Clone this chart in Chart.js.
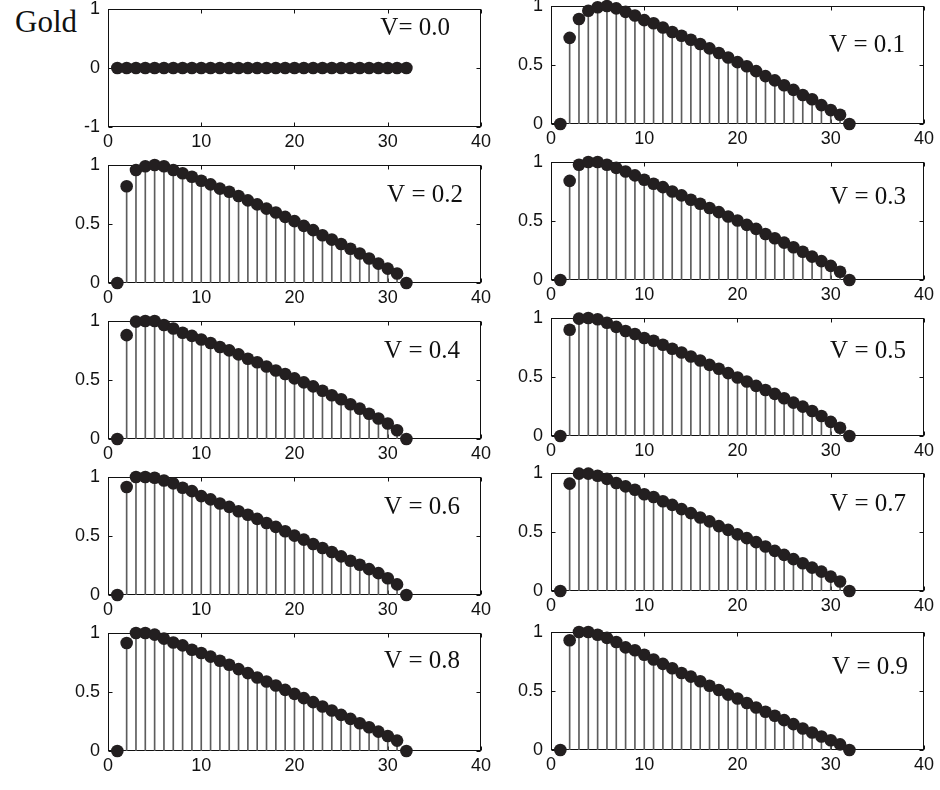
<!DOCTYPE html>
<html>
<head>
<meta charset="utf-8">
<script src="https://cdn.jsdelivr.net/npm/chart.js@4.4.0/dist/chart.umd.min.js"></script>
<style>
body { margin: 0; background: #fff; width: 940px; height: 790px; position: relative; overflow: hidden; }
.panel { position: absolute; }
#gold { position: absolute; left: 15px; top: 7px; font: 31px 'Liberation Serif', serif; line-height: 30px; color: #111; }
</style>
</head>
<body>
<div id="gold">Gold</div>
<script>
const xValues = [1, 2, 3, 4, 5, 6, 7, 8, 9, 10, 11, 12, 13, 14, 15, 16, 17, 18, 19, 20, 21, 22, 23, 24, 25, 26, 27, 28, 29, 30, 31, 32];
const xTicks = [0, 10, 20, 30, 40];
const panelLabels = ['V= 0.0', 'V = 0.1', 'V = 0.2', 'V = 0.3', 'V = 0.4', 'V = 0.5', 'V = 0.6', 'V = 0.7', 'V = 0.8', 'V = 0.9'];

const v00 = [0, 0, 0, 0, 0, 0, 0, 0, 0, 0, 0, 0, 0, 0, 0, 0, 0, 0, 0, 0, 0, 0, 0, 0, 0, 0, 0, 0, 0, 0, 0, 0];
const v01 = [0, 0.73, 0.89, 0.96, 0.99, 1.0, 0.98, 0.95, 0.92, 0.88, 0.854, 0.818, 0.78, 0.748, 0.714, 0.678, 0.641, 0.602, 0.563, 0.524, 0.49, 0.448, 0.406, 0.37, 0.328, 0.289, 0.246, 0.21, 0.16, 0.118, 0.078, 0];
const v02 = [0, 0.82, 0.957, 0.99, 1.0, 0.99, 0.957, 0.93, 0.90, 0.867, 0.836, 0.80, 0.773, 0.737, 0.70, 0.666, 0.63, 0.598, 0.56, 0.524, 0.484, 0.448, 0.405, 0.368, 0.33, 0.29, 0.25, 0.207, 0.164, 0.122, 0.08, 0];
const v03 = [0, 0.84, 0.977, 1.0, 1.0, 0.977, 0.95, 0.92, 0.887, 0.85, 0.816, 0.787, 0.75, 0.717, 0.68, 0.646, 0.61, 0.575, 0.538, 0.504, 0.467, 0.433, 0.39, 0.354, 0.317, 0.278, 0.24, 0.198, 0.16, 0.12, 0.07, 0];
const v04 = [0, 0.88, 0.995, 1.0, 1.0, 0.966, 0.937, 0.90, 0.874, 0.843, 0.814, 0.78, 0.751, 0.717, 0.68, 0.651, 0.614, 0.58, 0.551, 0.514, 0.48, 0.446, 0.409, 0.371, 0.337, 0.294, 0.257, 0.214, 0.174, 0.131, 0.074, 0];
const v05 = [0, 0.90, 0.995, 1.0, 0.99, 0.96, 0.925, 0.89, 0.864, 0.83, 0.807, 0.773, 0.74, 0.708, 0.674, 0.64, 0.603, 0.57, 0.533, 0.496, 0.462, 0.425, 0.39, 0.357, 0.32, 0.283, 0.249, 0.212, 0.17, 0.12, 0.07, 0];
const v06 = [0, 0.915, 1.0, 1.0, 0.994, 0.97, 0.946, 0.909, 0.88, 0.838, 0.81, 0.776, 0.747, 0.71, 0.68, 0.645, 0.61, 0.577, 0.54, 0.503, 0.469, 0.432, 0.398, 0.364, 0.327, 0.29, 0.256, 0.219, 0.185, 0.142, 0.09, 0];
const v07 = [0, 0.91, 0.995, 0.995, 0.977, 0.95, 0.915, 0.887, 0.858, 0.82, 0.796, 0.76, 0.73, 0.694, 0.66, 0.623, 0.59, 0.55, 0.518, 0.48, 0.448, 0.414, 0.377, 0.34, 0.306, 0.27, 0.235, 0.198, 0.164, 0.122, 0.08, 0];
const v08 = [0, 0.915, 1.0, 1.0, 0.986, 0.952, 0.92, 0.895, 0.858, 0.83, 0.80, 0.765, 0.731, 0.694, 0.66, 0.623, 0.589, 0.555, 0.518, 0.484, 0.448, 0.414, 0.377, 0.343, 0.306, 0.272, 0.235, 0.201, 0.164, 0.127, 0.088, 0];
const v09 = [0, 0.93, 1.0, 1.0, 0.977, 0.95, 0.915, 0.87, 0.845, 0.807, 0.767, 0.73, 0.693, 0.653, 0.622, 0.582, 0.545, 0.508, 0.469, 0.437, 0.398, 0.36, 0.324, 0.29, 0.253, 0.219, 0.182, 0.148, 0.114, 0.082, 0.048, 0];
const seriesList = [v00, v01, v02, v03, v04, v05, v06, v07, v08, v09];

// layout of the 5x2 grid (plot-area pixels)
const colLefts = [108, 551];
const rowTops = [[9, 165, 321, 477, 633], [6, 162, 318, 473, 632]];
const plotW = 373, plotH = 118;
const yAxisW = 46, xAxisH = 28, padTop = 24, padRight = 14;
const labelOffsets = [[31, 19], [19, 39], [18, 30], [18, 35], [21, 30], [18, 33], [21, 30], [18, 31], [21, 28], [16, 35]];

const tickFont = { family: "'Liberation Sans', Arial, sans-serif", size: 18 };

const boxPlugin = {
    id: 'boxPlugin',
    beforeDatasetsDraw(chart) {
        const { ctx, chartArea: a, scales } = chart;
        const l = Math.round(a.left) + 0.5, r = Math.round(a.right) - 0.5;
        const t = Math.round(a.top) + 0.5, b = Math.round(a.bottom) - 0.5;
        ctx.save();
        ctx.strokeStyle = '#111';
        ctx.lineWidth = 1;
        ctx.strokeRect(l, t, r - l, b - t);
        ctx.beginPath();
        scales.x.ticks.forEach(tk => {
            const px = Math.round(scales.x.getPixelForValue(tk.value)) + 0.5;
            ctx.moveTo(px, b); ctx.lineTo(px, b - 4);
            ctx.moveTo(px, t); ctx.lineTo(px, t + 4);
        });
        scales.y.ticks.forEach(tk => {
            const py = Math.round(scales.y.getPixelForValue(tk.value)) + 0.5;
            ctx.moveTo(l, py); ctx.lineTo(l + 4, py);
            ctx.moveTo(r, py); ctx.lineTo(r - 4, py);
        });
        ctx.stroke();
        ctx.restore();
    },
    afterDraw(chart, args, opts) {
        const { ctx, chartArea: a } = chart;
        ctx.save();
        ctx.font = "25px 'Liberation Serif', 'Times New Roman', serif";
        ctx.fillStyle = '#111';
        ctx.textAlign = 'right';
        ctx.textBaseline = 'middle';
        ctx.fillText(opts.text, a.right - opts.offR, a.top + opts.offY);
        ctx.restore();
    }
};

function renderPanel(i) {
    const col = i % 2, row = Math.floor(i / 2);
    const div = document.createElement('div');
    div.className = 'panel';
    const w = yAxisW + plotW + padRight, h = padTop + plotH + xAxisH;
    div.style.left = (colLefts[col] - yAxisW) + 'px';
    div.style.top = (rowTops[col][row] - padTop) + 'px';
    div.style.width = w + 'px';
    div.style.height = h + 'px';
    const canvas = document.createElement('canvas');
    canvas.width = w; canvas.height = h;
    div.appendChild(canvas);
    document.body.appendChild(div);

    const pts = xValues.map((x, k) => ({ x: x, y: seriesList[i][k] }));
    const isFirst = i === 0;

    return new Chart(canvas.getContext('2d'), {
        type: 'scatter',
        data: {
            datasets: [
                {
                    type: 'bar', data: pts, backgroundColor: '#5c5c5c', borderWidth: 0,
                    barThickness: 1, grouped: false, order: 2
                },
                {
                    type: 'scatter', data: pts, backgroundColor: '#231f20', borderColor: '#231f20',
                    pointBorderWidth: 0, pointRadius: 6.3, pointHoverRadius: 6.3, clip: false, order: 1
                }
            ]
        },
        options: {
            responsive: false, animation: false, devicePixelRatio: 1, events: [],
            layout: { padding: { top: padTop, right: padRight, left: 0, bottom: 0 } },
            plugins: {
                legend: { display: false }, tooltip: { enabled: false },
                boxPlugin: { text: panelLabels[i], offR: labelOffsets[i][0], offY: labelOffsets[i][1] }
            },
            scales: {
                x: {
                    type: 'linear', offset: false, min: xTicks[0], max: xTicks[xTicks.length - 1],
                    afterBuildTicks: axis => { axis.ticks = xTicks.map(v => ({ value: v })); },
                    ticks: { font: tickFont, color: '#111', padding: 4, maxRotation: 0 },
                    grid: { display: false, drawTicks: false, offset: false }, border: { display: false },
                    afterFit: s => { s.height = xAxisH; }
                },
                y: {
                    type: 'linear', min: isFirst ? -1 : 0, max: 1,
                    ticks: { stepSize: isFirst ? 1 : 0.5, font: tickFont, color: '#111', padding: 8, callback: v => String(v) },
                    grid: { display: false, drawTicks: false }, border: { display: false },
                    afterFit: s => { s.width = yAxisW; }
                }
            }
        },
        plugins: [boxPlugin]
    });
}

seriesList.forEach((s, i) => renderPanel(i));
</script>
</body>
</html>
